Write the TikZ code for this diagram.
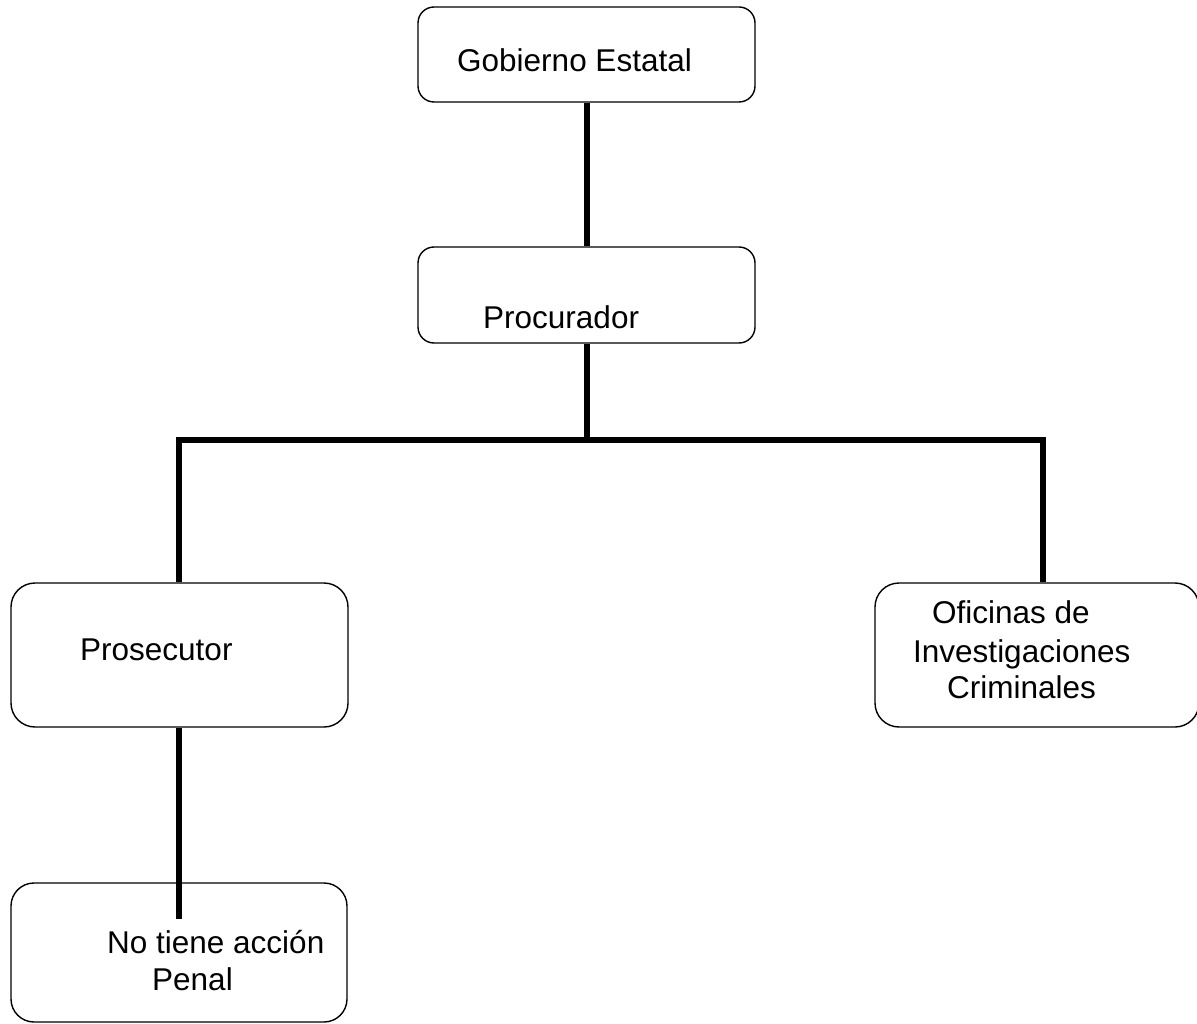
\documentclass[tikz,border=0pt]{standalone}
\usepackage{fontspec}
\setmainfont{Liberation Sans}
\begin{document}
\begin{tikzpicture}[x=1pt,y=-1pt,
  orgbox/.style={draw, line width=1.4pt, rounded corners=#1, inner sep=0pt, fill=white},
  orgbox/.default=16pt,
  boxtext/.style={anchor=base west, inner sep=0pt, font=\fontsize{31.5}{38}\selectfont},
  link/.style={line width=6pt, line join=miter}
]
\useasboundingbox (0,0) rectangle (1197,1024);
\fill[white] (0,0) rectangle (1197,1024);

% boxes
\node[orgbox, minimum width=337pt, minimum height=95pt] (gob) at (586.5,54.5) {};
\node[orgbox, minimum width=337pt, minimum height=96pt] (proc) at (586.5,295) {};
\node[orgbox=24pt, minimum width=337pt, minimum height=144pt] (pros) at (179.5,655) {};
\node[orgbox=24pt, minimum width=324pt, minimum height=144pt] (ofi) at (1037,655) {};
\node[orgbox=23pt, minimum width=336pt, minimum height=139pt] (nota) at (179,952.5) {};

% labels
\node[boxtext] (tgob) at (457,72) {Gobierno Estatal};
\node[boxtext] (tproc) at (483,329) {Procurador};
\node[boxtext] (tpros) at (80,660) {Prosecutor};
\node[boxtext] (tofi1) at (932,623) {Oficinas de};
\node[boxtext] (tofi2) at (913,662) {Investigaciones};
\node[boxtext] (tofi3) at (947,698) {Criminales};
\node[boxtext] (tnota1) at (107,953) {No tiene acción};
\node[boxtext] (tnota2) at (152,990) {Penal};

% connectors
\coordinate (barL) at (179,439.5);
\coordinate (barM) at (587,439.5);
\coordinate (barR) at (1043,439.5);
\coordinate (stub) at (179,919);

\draw[link] (gob.south -| barM) -- (proc.north -| barM);
\draw[link] (proc.south -| barM) -- (barM);
\draw[link] (barL |- pros.north) -- (barL) -- (barR) -- (barR |- ofi.north);
\draw[link] (pros.south -| stub) -- (stub);
\end{tikzpicture}
\end{document}
